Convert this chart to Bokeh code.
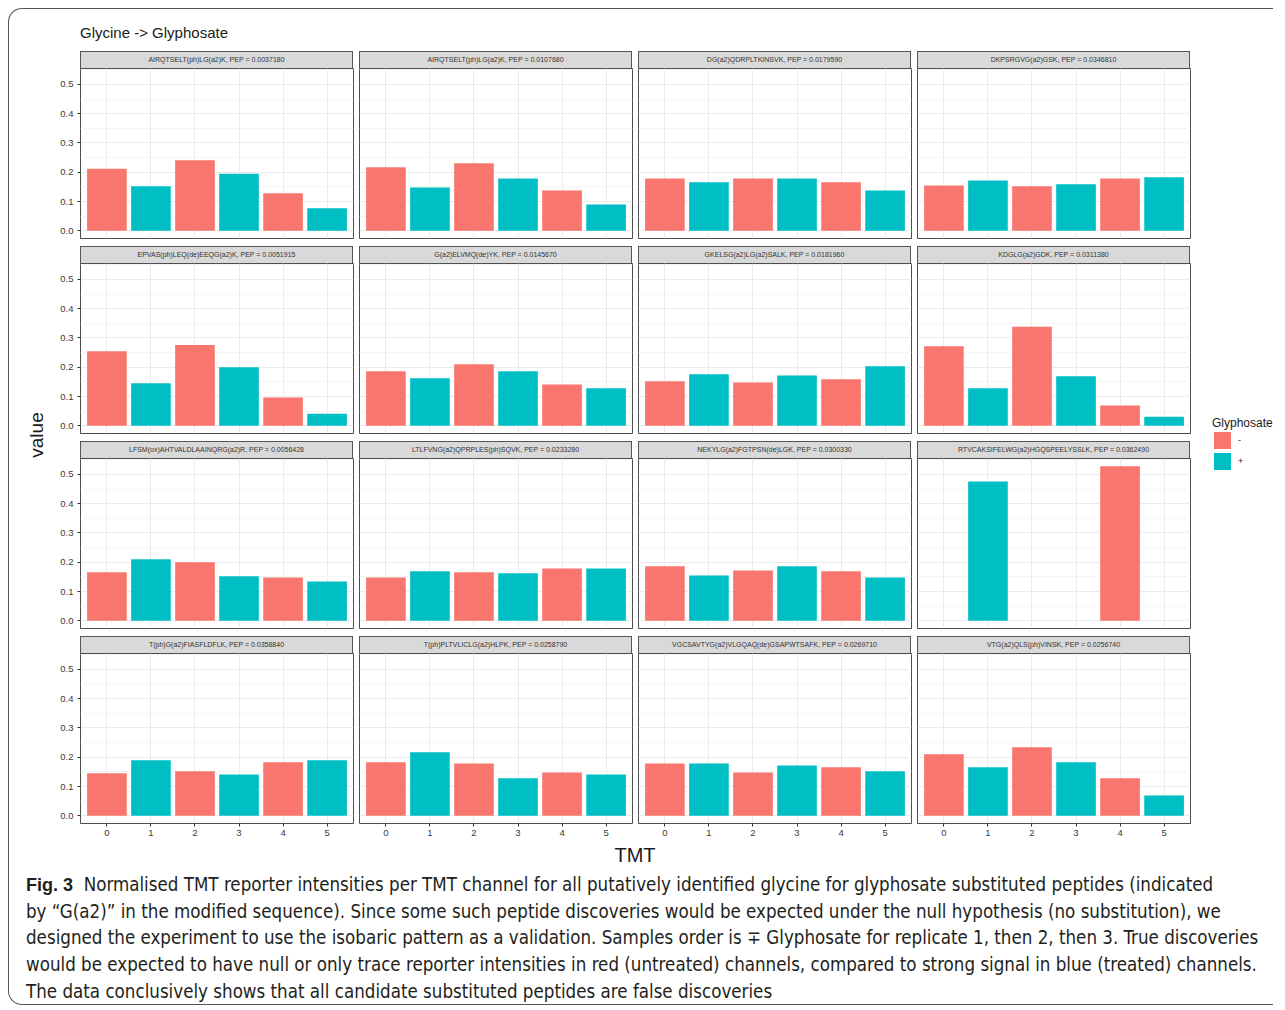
from bokeh.plotting import figure
from bokeh.models import Range1d, FixedTicker, PrintfTickFormatter, Div, Spacer, ColumnDataSource
from bokeh.layouts import column, row
from bokeh.embed import file_html
from bokeh.resources import INLINE

# ---------------- data ----------------
channels = [0, 1, 2, 3, 4, 5]
glyphosate = ["-", "+", "-", "+", "-", "+"]
y_ticks = [0.0, 0.1, 0.2, 0.3, 0.4, 0.5]

peptides = [
    "AIRQTSELT(ph)LG(a2)K, PEP = 0.0037180",
    "AIRQTSELT(ph)LG(a2)K, PEP = 0.0107680",
    "DG(a2)QDRPLTKINSVK, PEP = 0.0179590",
    "DKPSRGVG(a2)GSK, PEP = 0.0346810",
    "EPVAS(ph)LEQ(de)EEQG(a2)K, PEP = 0.0051915",
    "G(a2)ELVMQ(de)YK, PEP = 0.0145670",
    "GKELSG(a2)LG(a2)SALK, PEP = 0.0181960",
    "KDGLG(a2)GDK, PEP = 0.0311380",
    "LFSM(ox)AHTVALDLAAINQRG(a2)R, PEP = 0.0056428",
    "LTLFVNG(a2)QPRPLES(ph)SQVK, PEP = 0.0233280",
    "NEKYLG(a2)FGTPSN(de)LGK, PEP = 0.0300330",
    "RTVCAKSIFELWG(a2)HGQSPEELYSSLK, PEP = 0.0362490",
    "T(ph)G(a2)FIASFLDFLK, PEP = 0.0358840",
    "T(ph)PLTVLICLG(a2)HLPK, PEP = 0.0258790",
    "VGCSAVTYG(a2)VLGQAQ(de)GSAPWTSAFK, PEP = 0.0269710",
    "VTG(a2)QLS(ph)VINSK, PEP = 0.0256740",
]

v01 = [0.212, 0.152, 0.241, 0.195, 0.128, 0.077]
v02 = [0.217, 0.148, 0.231, 0.179, 0.138, 0.090]
v03 = [0.179, 0.166, 0.179, 0.179, 0.166, 0.138]
v04 = [0.155, 0.172, 0.152, 0.159, 0.179, 0.183]
v05 = [0.255, 0.145, 0.276, 0.200, 0.097, 0.041]
v06 = [0.186, 0.162, 0.210, 0.186, 0.141, 0.128]
v07 = [0.152, 0.176, 0.148, 0.172, 0.159, 0.203]
v08 = [0.272, 0.128, 0.338, 0.169, 0.069, 0.031]
v09 = [0.166, 0.210, 0.200, 0.152, 0.148, 0.134]
v10 = [0.148, 0.169, 0.166, 0.162, 0.179, 0.179]
v11 = [0.186, 0.155, 0.172, 0.186, 0.169, 0.148]
v12 = [0.0, 0.476, 0.0, 0.0, 0.528, 0.0]
v13 = [0.145, 0.190, 0.152, 0.141, 0.183, 0.190]
v14 = [0.183, 0.217, 0.179, 0.128, 0.148, 0.141]
v15 = [0.179, 0.179, 0.148, 0.172, 0.166, 0.152]
v16 = [0.210, 0.166, 0.234, 0.183, 0.128, 0.069]
panel_values = [v01, v02, v03, v04, v05, v06, v07, v08,
                v09, v10, v11, v12, v13, v14, v15, v16]

RED = "#F8766D"
CYAN = "#00BFC4"
color_map = {"-": RED, "+": CYAN}

FONT = "'Liberation Sans', Arial, Helvetica, sans-serif"
CAPFONT = "'Liberation Sans Narrow', 'DejaVu Sans Condensed', 'Liberation Sans', sans-serif"

FRAME_W = 273
FRAME_H = 170
LEFT0 = 32
GAP_R = 3
GAP_L = 3


def make_panel(vals, col, bottom_row):
    left = LEFT0 if col == 0 else GAP_L
    bot = 20 if bottom_row else 7
    p = figure(width=left + FRAME_W + GAP_R, height=FRAME_H + bot,
               x_range=Range1d(-0.6, 5.6), y_range=Range1d(-0.0264, 0.5544),
               output_backend="svg", toolbar_location=None,
               min_border_left=left, min_border_right=GAP_R,
               min_border_top=0, min_border_bottom=bot)
    p.title.visible = False
    p.background_fill_color = "white"
    p.border_fill_color = "white"
    p.outline_line_color = "#4d4d4d"
    p.outline_line_width = 1

    src = ColumnDataSource(dict(x=channels, top=vals,
                                color=[color_map[g] for g in glyphosate]))
    p.vbar(x="x", top="top", bottom=0, width=0.9, source=src,
           fill_color="color", line_color=None)

    yt = FixedTicker(ticks=y_ticks, minor_ticks=[0.05, 0.15, 0.25, 0.35, 0.45, 0.55])
    xt = FixedTicker(ticks=channels)
    p.yaxis.ticker = yt
    p.xaxis.ticker = xt
    p.ygrid.ticker = yt
    p.xgrid.ticker = xt
    p.ygrid.grid_line_color = "#EBEBEB"
    p.xgrid.grid_line_color = "#EBEBEB"
    p.ygrid.minor_grid_line_color = "#F5F5F5"
    p.yaxis.formatter = PrintfTickFormatter(format="%.1f")

    for ax in (p.xaxis[0], p.yaxis[0]):
        ax.axis_line_color = None
        ax.major_tick_line_color = "#333333"
        ax.major_tick_out = 3
        ax.major_tick_in = 0
        ax.minor_tick_line_color = None
        ax.major_label_text_font = FONT
        ax.major_label_text_font_size = "9.5px"
        ax.major_label_text_color = "#3a3a3a"
        ax.major_label_standoff = 3
    if col != 0:
        p.yaxis.visible = False
    if not bottom_row:
        p.xaxis.visible = False
    return p


def strip(label):
    html = ('<div style="box-sizing:border-box;width:%dpx;height:18px;background:#D9D9D9;'
            'border:1px solid #555;display:flex;align-items:center;justify-content:center;'
            'font-family:%s;font-size:7px;color:#333;white-space:nowrap;">%s</div>'
            % (FRAME_W, FONT, label))
    return Div(text=html, width=FRAME_W, height=18, margin=0)


grid_rows = []
for r in range(4):
    kids = [Spacer(width=LEFT0, height=18, margin=0)]
    for c in range(4):
        if c > 0:
            kids.append(Spacer(width=GAP_R + GAP_L, height=18, margin=0))
        kids.append(strip(peptides[r * 4 + c]))
    kids.append(Spacer(width=GAP_R, height=18, margin=0))
    grid_rows.append(row(*kids, spacing=0, margin=0))
    figs = [make_panel(panel_values[r * 4 + c], c, r == 3) for c in range(4)]
    grid_rows.append(row(*figs, spacing=0, margin=0))
grid = column(*grid_rows, spacing=0, margin=0)

GRID_W = LEFT0 + FRAME_W + GAP_R + 3 * (GAP_L + FRAME_W + GAP_R)
GRID_H = 3 * (18 + FRAME_H + 7) + 18 + FRAME_H + 20
YL_W = 39
LEG_W = 80
TOTAL_W = YL_W + GRID_W + LEG_W
CAP_H = 136

title_div = Div(text=('<div style="position:relative;width:%dpx;height:41px;">'
                      '<div style="position:absolute;left:71px;top:15px;font-family:%s;'
                      'font-size:15px;line-height:18px;color:#1a1a1a;white-space:nowrap;">'
                      'Glycine -&gt; Glyphosate</div></div>' % (TOTAL_W, FONT)),
                width=TOTAL_W, height=41, margin=0)

ylab_div = Div(text=('<div style="position:relative;width:%dpx;height:%dpx;">'
                     '<div style="position:absolute;left:28px;top:385px;'
                     'transform:translate(-50%%,-50%%) rotate(-90deg);font-family:%s;'
                     'font-size:19px;color:#1a1a1a;white-space:nowrap;">value</div></div>'
                     % (YL_W, GRID_H, FONT)),
               width=YL_W, height=GRID_H, margin=0)

leg_div = Div(text=('<div style="position:relative;width:%dpx;height:%dpx;">'
                    '<div style="position:absolute;left:19px;top:366px;font-family:%s;'
                    'font-size:12px;line-height:14px;color:#1a1a1a;white-space:nowrap;">Glyphosate</div>'
                    '<div style="position:absolute;left:21px;top:382px;width:17px;height:17px;background:%s;"></div>'
                    '<div style="position:absolute;left:21px;top:403px;width:17px;height:17px;background:%s;"></div>'
                    '<div style="position:absolute;left:45px;top:384px;font-family:%s;font-size:9px;'
                    'line-height:12px;color:#1a1a1a;">-</div>'
                    '<div style="position:absolute;left:45px;top:405px;font-family:%s;font-size:9px;'
                    'line-height:12px;color:#1a1a1a;">+</div></div>'
                    % (LEG_W, GRID_H, FONT, RED, CYAN, FONT, FONT)),
              width=LEG_W, height=GRID_H, margin=0)

xlab_div = Div(text=('<div style="position:relative;width:%dpx;height:25px;">'
                     '<div style="position:absolute;left:626px;top:12px;transform:translate(-50%%,-50%%);'
                     'font-family:%s;font-size:20px;color:#1a1a1a;white-space:nowrap;">TMT</div></div>'
                     % (TOTAL_W, FONT)),
               width=TOTAL_W, height=25, margin=0)

caption_lines = [
    "<b style=\"font-family:'Liberation Sans',Arial,sans-serif;font-size:18px;\">Fig. 3</b>&nbsp;&nbsp;Normalised TMT reporter intensities per TMT channel for all putatively identified glycine for glyphosate substituted peptides (indicated",
    "by \u201cG(a2)\u201d in the modified sequence). Since some such peptide discoveries would be expected under the null hypothesis (no substitution), we",
    "designed the experiment to use the isobaric pattern as a validation. Samples order is \u2213 Glyphosate for replicate 1, then 2, then 3. True discoveries",
    "would be expected to have null or only trace reporter intensities in red (untreated) channels, compared to strong signal in blue (treated) channels.",
    "The data conclusively shows that all candidate substituted peptides are false discoveries",
]
cap_html = '<div style="position:relative;width:%dpx;height:%dpx;">' % (TOTAL_W, CAP_H)
cap_html += ('<div style="position:absolute;left:17px;top:4px;font-family:%s;font-size:18.6px;'
             'line-height:26.7px;color:#231f20;white-space:nowrap;">' % CAPFONT)
cap_html += "<br>".join(caption_lines)
cap_html += "</div></div>"
caption_div = Div(text=cap_html, width=TOTAL_W, height=CAP_H, margin=0)

middle = row(ylab_div, grid, leg_div, spacing=0, margin=0)
page = column(title_div, middle, xlab_div, caption_div, spacing=0, margin=(8, 0, 0, 8),
              styles={"border": "1.5px solid #555", "border-right": "none",
                      "border-radius": "14px 0 0 14px", "background": "white"})

open("out.html", "w").write(file_html(page, INLINE, title="Glycine -> Glyphosate"))
